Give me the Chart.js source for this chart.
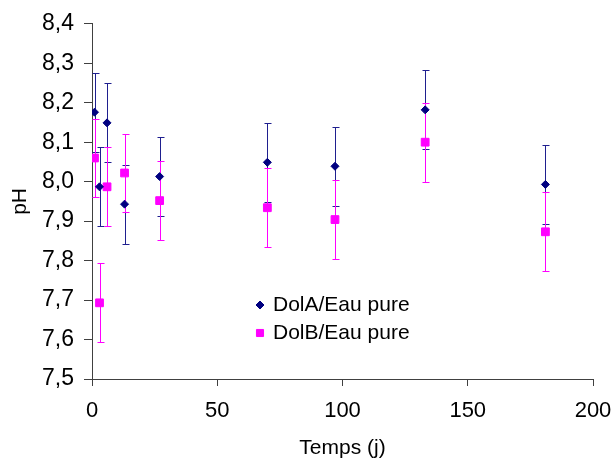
<!DOCTYPE html>
<html><head><meta charset="utf-8">
<script src="https://cdn.jsdelivr.net/npm/chart.js@4"></script>
<style>html,body{margin:0;padding:0;background:#fff}canvas{display:block}</style>
</head><body>
<canvas id="c" width="613" height="464"></canvas>
<script>
const seriesNames = ['DolA/Eau pure', 'DolB/Eau pure'];
const timeA = [1, 3, 6, 13, 27, 70, 97, 133, 181];
const phA   = [8.176, 7.987, 8.149, 7.943, 8.013, 8.049, 8.039, 8.182, 7.993];
const errA  = [0.1, 0.1, 0.1, 0.1, 0.1, 0.1, 0.1, 0.1, 0.1];
const timeB = [1, 3, 6, 13, 27, 70, 97, 133, 181];
const phB   = [8.060, 7.693, 7.987, 8.022, 7.952, 7.934, 7.904, 8.100, 7.873];
const errB  = [0.1, 0.1, 0.1, 0.1, 0.1, 0.1, 0.1, 0.1, 0.1];
const xTickValues = [0, 50, 100, 150, 200];
const yTickLabels = ['7,5', '7,6', '7,7', '7,8', '7,9', '8,0', '8,1', '8,2', '8,3', '8,4'];
const xTitle = 'Temps (j)';
const yTitle = 'pH';

const FONT = '"Liberation Sans", Arial, sans-serif';
const AXIS = '#404040';

function toPoints(xs, ys) { return xs.map((x, i) => ({x: x, y: ys[i]})); }

const errorBars = {
  id: 'errorBars',
  beforeDatasetsDraw(chart) {
    const ctx = chart.ctx;
    const ys = chart.scales.y;
    chart.data.datasets.forEach((ds, di) => {
      const meta = chart.getDatasetMeta(di);
      ctx.save();
      ctx.strokeStyle = ds.errorColor;
      ctx.lineWidth = 1;
      meta.data.forEach((pt, i) => {
        const v = ds.data[i].y, e = ds.errors[i];
        const x = Math.round(pt.x) + 0.5;
        const yt = Math.round(ys.getPixelForValue(v + e)) + 0.5;
        const yb = Math.round(ys.getPixelForValue(v - e)) + 0.5;
        ctx.beginPath();
        ctx.moveTo(x, yt); ctx.lineTo(x, yb);
        ctx.moveTo(x - 3, yt); ctx.lineTo(x + 4, yt);
        ctx.moveTo(x - 3, yb); ctx.lineTo(x + 4, yb);
        ctx.stroke();
      });
      ctx.restore();
    });
  }
};

const innerLegend = {
  id: 'innerLegend',
  afterDraw(chart, args, opts) {
    const ctx = chart.ctx;
    ctx.save();
    chart.data.datasets.forEach((ds, di) => {
      const y = opts.y + di * opts.spacing;
      ctx.fillStyle = ds.backgroundColor;
      ctx.strokeStyle = ds.borderColor;
      ctx.lineWidth = 1;
      Chart.helpers.drawPoint(ctx, {
        pointStyle: ds.pointStyle, radius: ds.legendRadius, borderWidth: 1, rotation: 0
      }, opts.markerX, y);
      ctx.fillStyle = '#000';
      ctx.font = opts.font;
      ctx.textBaseline = 'middle';
      ctx.textAlign = 'left';
      ctx.fillText(ds.label, opts.textX, y);
    });
    ctx.restore();
  }
};

new Chart(document.getElementById('c'), {
  type: 'scatter',
  data: {
    datasets: [
      {
        label: seriesNames[0],
        data: toPoints(timeA, phA),
        errors: errA,
        errorColor: '#1f1f8f',
        pointStyle: 'rectRot',
        pointRadius: 4,
        legendRadius: 4,
        borderWidth: 1,
        backgroundColor: '#000080',
        borderColor: '#000080'
      },
      {
        label: seriesNames[1],
        data: toPoints(timeB, phB),
        errors: errB,
        errorColor: '#ff00ff',
        pointStyle: 'rect',
        pointRadius: 5.5,
        legendRadius: 5,
        borderWidth: 1,
        backgroundColor: '#ff00ff',
        borderColor: '#ff00ff'
      }
    ]
  },
  options: {
    responsive: false,
    animation: false,
    devicePixelRatio: 1,
    layout: {padding: {left: 0, top: 19, right: 20, bottom: 0}},
    plugins: {
      legend: {display: false},
      tooltip: {enabled: false},
      innerLegend: {markerX: 260, textX: 273, y: 305, spacing: 28, font: '21px ' + FONT}
    },
    scales: {
      x: {
        type: 'linear',
        min: 0, max: 200,
        afterFit(s) { s.height = 85; s.paddingRight = 0; s.paddingLeft = 0; },
        afterBuildTicks(s) { s.ticks = xTickValues.map(v => ({value: v})); },
        border: {display: true, color: AXIS, width: 1},
        grid: {display: true, drawOnChartArea: false, drawTicks: true, tickLength: 7, tickColor: AXIS},
        ticks: {color: '#000', font: {family: FONT, size: 22}, padding: 12, maxRotation: 0,
                callback: v => String(v)},
        title: {display: true, text: xTitle, color: '#000', font: {family: FONT, size: 21},
                padding: {top: 0, bottom: 3}}
      },
      y: {
        type: 'linear',
        min: 7.5, max: 8.4,
        afterFit(s) { s.width = 92; },
        afterBuildTicks(s) { s.ticks = yTickLabels.map((t, i) => ({value: 7.5 + i * 0.1})); },
        border: {display: true, color: AXIS, width: 1},
        grid: {display: true, drawOnChartArea: false, drawTicks: true, tickLength: 8, tickColor: AXIS},
        ticks: {color: '#000', font: {family: FONT, size: 23}, padding: 10,
                callback: (v, i) => yTickLabels[i]},
        title: {display: true, text: yTitle, color: '#000', font: {family: FONT, size: 21},
                padding: {top: 8, bottom: 0}}
      }
    }
  },
  plugins: [errorBars, innerLegend]
});
</script>
</body></html>
